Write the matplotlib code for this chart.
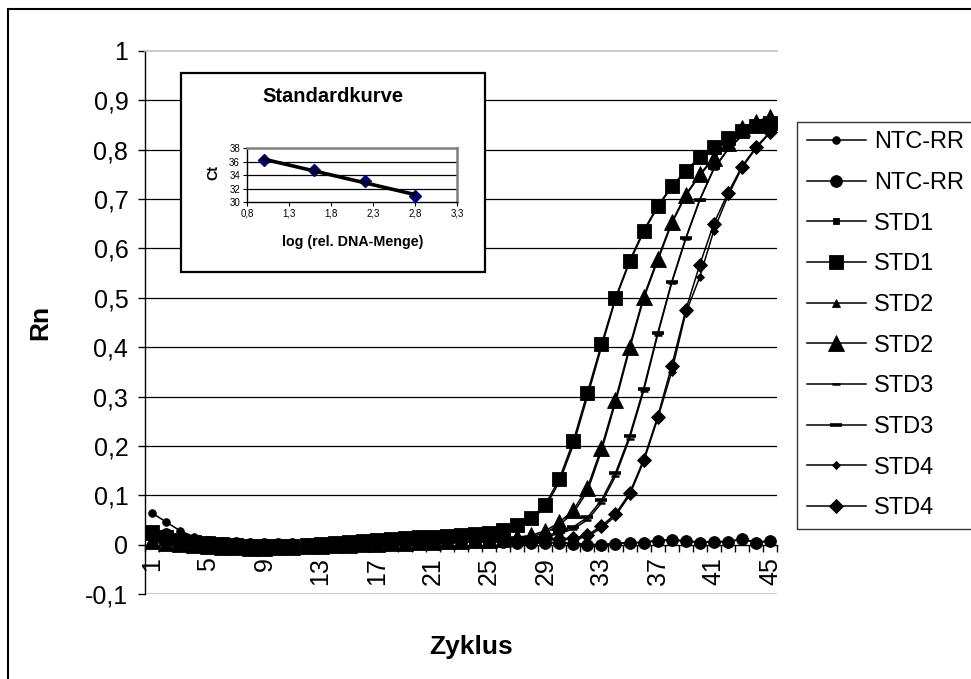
import matplotlib

matplotlib.use("Agg")
import matplotlib.pyplot as plt
import numpy as np
from matplotlib.patches import Rectangle

plt.rcParams["font.family"] = ["Liberation Sans", "DejaVu Sans"]

CYCLES = list(range(1, 46))

NTC_A = [0.064, 0.046, 0.028, 0.016, 0.010, 0.007, 0.005, 0.003, 0.002, 0.002,
         0.002, 0.003, 0.003, 0.004, 0.004, 0.005, 0.005, 0.005, 0.006, 0.006,
         0.006, 0.006, 0.006, 0.006, 0.006, 0.006, 0.005, 0.005, 0.005, 0.004,
         0.003, 0.001, 0.000, 0.003, 0.004, 0.005, 0.009, 0.010, 0.008, 0.005,
         0.007, 0.006, 0.012, 0.005, 0.008]
NTC_B = [0.022, 0.021, 0.012, 0.008, 0.005, 0.004, 0.003, 0.002, 0.001, 0.001,
         0.001, 0.002, 0.002, 0.003, 0.003, 0.004, 0.004, 0.004, 0.005, 0.005,
         0.005, 0.005, 0.005, 0.005, 0.005, 0.005, 0.004, 0.004, 0.004, 0.003,
         0.002, 0.000, -0.001, 0.002, 0.003, 0.004, 0.008, 0.009, 0.007, 0.004,
         0.006, 0.005, 0.011, 0.004, 0.007]
STD1_A = [0.022, 0.014, 0.008, 0.004, 0.001, -0.001, -0.003, -0.004, -0.005, -0.005,
          -0.004, -0.003, -0.001, 0.001, 0.003, 0.005, 0.007, 0.009, 0.011, 0.013,
          0.014, 0.015, 0.017, 0.019, 0.022, 0.028, 0.037, 0.050, 0.076, 0.127,
          0.202, 0.300, 0.400, 0.497, 0.572, 0.633, 0.684, 0.724, 0.755, 0.785,
          0.805, 0.823, 0.836, 0.848, 0.853]
STD1_B = [0.026, 0.016, 0.010, 0.006, 0.003, 0.001, -0.001, -0.002, -0.003, -0.003,
          -0.002, -0.001, 0.001, 0.003, 0.005, 0.007, 0.009, 0.011, 0.013, 0.015,
          0.016, 0.017, 0.019, 0.021, 0.024, 0.030, 0.040, 0.054, 0.081, 0.133,
          0.210, 0.308, 0.406, 0.500, 0.575, 0.636, 0.686, 0.726, 0.757, 0.786,
          0.806, 0.824, 0.837, 0.849, 0.855]
STD2_A = [0.005, 0.002, -0.001, -0.003, -0.005, -0.006, -0.007, -0.008, -0.008, -0.007,
          -0.006, -0.005, -0.004, -0.003, -0.002, -0.001, 0.000, 0.001, 0.002, 0.003,
          0.004, 0.005, 0.006, 0.007, 0.008, 0.010, 0.012, 0.016, 0.024, 0.040,
          0.064, 0.108, 0.190, 0.288, 0.396, 0.498, 0.575, 0.650, 0.707, 0.748,
          0.782, 0.812, 0.842, 0.855, 0.865]
STD2_B = [0.008, 0.004, 0.001, -0.001, -0.003, -0.004, -0.005, -0.006, -0.006, -0.005,
          -0.004, -0.003, -0.002, -0.001, 0.000, 0.001, 0.002, 0.003, 0.004, 0.005,
          0.006, 0.007, 0.008, 0.009, 0.010, 0.012, 0.015, 0.019, 0.028, 0.045,
          0.070, 0.115, 0.196, 0.294, 0.401, 0.502, 0.579, 0.653, 0.709, 0.750,
          0.784, 0.814, 0.844, 0.857, 0.867]
STD3_A = [0.010, 0.006, 0.003, 0.001, -0.001, -0.002, -0.003, -0.004, -0.004, -0.004,
          -0.003, -0.002, -0.001, 0.000, 0.001, 0.002, 0.003, 0.004, 0.005, 0.006,
          0.007, 0.007, 0.008, 0.008, 0.009, 0.010, 0.011, 0.012, 0.016, 0.022,
          0.032, 0.050, 0.084, 0.139, 0.215, 0.311, 0.425, 0.530, 0.619, 0.698,
          0.761, 0.800, 0.828, 0.845, 0.855]
STD3_B = [0.012, 0.008, 0.005, 0.003, 0.001, 0.000, -0.001, -0.002, -0.002, -0.002,
          -0.001, 0.000, 0.001, 0.002, 0.003, 0.004, 0.005, 0.006, 0.007, 0.008,
          0.009, 0.009, 0.010, 0.010, 0.011, 0.012, 0.013, 0.014, 0.018, 0.025,
          0.036, 0.055, 0.090, 0.145, 0.220, 0.316, 0.428, 0.532, 0.621, 0.699,
          0.762, 0.801, 0.829, 0.846, 0.856]
STD4_A = [0.012, 0.008, 0.004, 0.002, 0.000, -0.002, -0.003, -0.004, -0.005, -0.005,
          -0.004, -0.003, -0.002, -0.001, 0.000, 0.001, 0.002, 0.003, 0.004, 0.005,
          0.006, 0.006, 0.007, 0.007, 0.008, 0.008, 0.009, 0.009, 0.010, 0.010,
          0.011, 0.016, 0.034, 0.058, 0.100, 0.168, 0.255, 0.350, 0.469, 0.542,
          0.636, 0.706, 0.763, 0.803, 0.834]
STD4_B = [0.015, 0.010, 0.006, 0.003, 0.001, -0.001, -0.002, -0.003, -0.004, -0.004,
          -0.003, -0.002, -0.001, 0.000, 0.001, 0.002, 0.003, 0.004, 0.005, 0.006,
          0.007, 0.007, 0.008, 0.008, 0.009, 0.009, 0.010, 0.010, 0.011, 0.012,
          0.013, 0.019, 0.038, 0.062, 0.104, 0.172, 0.259, 0.362, 0.475, 0.567,
          0.650, 0.712, 0.766, 0.805, 0.836]

SERIES = [
    ("NTC-RR", NTC_A, "o", 5.5, None),
    ("NTC-RR", NTC_B, "o", 8.5, None),
    ("STD1", STD1_A, "s", 5.0, None),
    ("STD1", STD1_B, "s", 9.5, None),
    ("STD2", STD2_A, "^", 6.0, None),
    ("STD2", STD2_B, "^", 12.0, None),
    ("STD3", STD3_A, "_", 6.0, 1.8),
    ("STD3", STD3_B, "_", 9.0, 2.6),
    ("STD4", STD4_A, "D", 4.5, None),
    ("STD4", STD4_B, "D", 7.0, None),
]

Y_TICKS = [-0.1, 0.0, 0.1, 0.2, 0.3, 0.4, 0.5, 0.6, 0.7, 0.8, 0.9, 1.0]
Y_TICK_LABELS = ["-0,1", "0", "0,1", "0,2", "0,3", "0,4", "0,5", "0,6", "0,7", "0,8", "0,9", "1"]
X_LABELED = CYCLES[::4]

# inset standard curve
STD_LOG = [1.0, 1.6, 2.2, 2.8]
STD_CT = [36.2, 34.7, 33.1, 30.9]
INSET_X_TICKS = [0.8, 1.3, 1.8, 2.3, 2.8, 3.3]
INSET_X_LABELS = ["0,8", "1,3", "1,8", "2,3", "2,8", "3,3"]
INSET_Y_TICKS = [30, 32, 34, 36, 38]

GRAY = "#c0c0c0"
W, H = 971, 679


def fx(px):
    return px / W


def fy(py):
    return 1 - py / H


def draw_main(fig):
    ax = fig.add_axes([fx(145), fy(594), fx(777 - 145), (594 - 51) / H])
    x = np.array(CYCLES)
    handles = []
    for label, values, marker, size, mew in SERIES:
        kw = dict(color="black", lw=1.1, marker=marker, markersize=size,
                  markerfacecolor="black", markeredgecolor="black", label=label)
        if mew is not None:
            kw["markeredgewidth"] = mew
        else:
            kw["markeredgewidth"] = 0.6
        (line,) = ax.plot(x, values, **kw)
        handles.append(line)

    ax.set_xlim(0.5, 45.5)
    ax.set_ylim(-0.1, 1.0)
    for yv in Y_TICKS[2:-1]:
        ax.axhline(yv, color="black", lw=0.9, zorder=0.5)
    ax.axhline(-0.1, color=GRAY, lw=1.2, zorder=0.5)

    ax.spines["right"].set_visible(False)
    ax.spines["top"].set_color(GRAY)
    ax.spines["top"].set_linewidth(1.2)
    ax.spines["left"].set_linewidth(1.0)
    ax.spines["bottom"].set_position(("data", 0))
    ax.spines["bottom"].set_linewidth(1.0)

    ax.set_yticks(Y_TICKS)
    ax.set_yticklabels(Y_TICK_LABELS, fontsize=18)
    ax.tick_params(axis="y", direction="out", length=5, width=1, pad=7)

    ax.set_xticks(X_LABELED)
    ax.set_xticklabels([str(c) for c in X_LABELED], rotation=90, fontsize=18)
    ax.set_xticks(np.arange(0.5, 46, 1.0), minor=True)
    ax.tick_params(axis="x", which="major", length=0, pad=9)
    ax.tick_params(axis="x", which="minor", direction="out", length=5, width=1)

    fig.text(fx(40), fy(322), "Rn", rotation=90, fontsize=19, fontweight="bold",
             ha="center", va="center")
    fig.text(fx(471), fy(647), "Zyklus", fontsize=19, fontweight="bold",
             ha="center", va="center")

    fig.legend(handles=handles, loc="upper left", bbox_to_anchor=(fx(797), fy(121.5)),
               borderaxespad=0, fontsize=17, frameon=True, fancybox=False,
               edgecolor="black", handlelength=2.5, handletextpad=0.35,
               labelspacing=0.79, borderpad=0.42, numpoints=1)
    leg = fig.legends[0]
    leg.get_frame().set_linewidth(1.0)


def draw_inset(fig):
    fig.add_artist(Rectangle((fx(181), fy(272)), fx(485 - 181), (272 - 73) / H,
                             transform=fig.transFigure, facecolor="white",
                             edgecolor="black", lw=1.6, zorder=5))
    ax = fig.add_axes([fx(247), fy(202), fx(457 - 247), (202 - 148) / H], zorder=6)
    ax.plot(STD_LOG, STD_CT, linestyle="none", marker="D", markersize=6.5,
            color="#000080", markeredgecolor="#000080", zorder=3)
    slope, icpt = np.polyfit(STD_LOG, STD_CT, 1)
    xs = np.array([STD_LOG[0], STD_LOG[-1]])
    ax.plot(xs, slope * xs + icpt, color="black", lw=2.6, zorder=4)

    ax.set_xlim(0.8, 3.3)
    ax.set_ylim(30, 38)
    for yv in INSET_Y_TICKS[1:-1]:
        ax.axhline(yv, color="black", lw=0.9, zorder=1)
    for side in ("top", "right"):
        ax.spines[side].set_color("#808080")
        ax.spines[side].set_linewidth(1.8)
    for side in ("left", "bottom"):
        ax.spines[side].set_linewidth(1.0)
    ax.set_xticks(INSET_X_TICKS)
    ax.set_xticklabels(INSET_X_LABELS, fontsize=7)
    ax.set_yticks(INSET_Y_TICKS)
    ax.set_yticklabels([str(v) for v in INSET_Y_TICKS], fontsize=7)
    ax.tick_params(direction="out", length=3, width=0.8, pad=2)

    fig.text(fx(333), fy(97), "Standardkurve", fontsize=14.5, fontweight="bold",
             ha="center", va="center", zorder=7)
    fig.text(fx(353), fy(241.5), "log (rel. DNA-Menge)", fontsize=10.3,
             fontweight="bold", ha="center", va="center", zorder=7)
    fig.text(fx(213), fy(173), "Ct", rotation=90, fontsize=10.3, fontweight="bold",
             ha="center", va="center", zorder=7)


def main():
    fig = plt.figure(figsize=(W / 100, H / 100), dpi=100)
    fig.add_artist(Rectangle((fx(8), -0.02), 1.05, fy(9) + 0.02,
                             transform=fig.transFigure, facecolor="none",
                             edgecolor="black", lw=1.5, zorder=10))
    draw_main(fig)
    draw_inset(fig)
    fig.savefig("out.png", dpi=100)
    plt.close(fig)


if __name__ == "__main__":
    main()
